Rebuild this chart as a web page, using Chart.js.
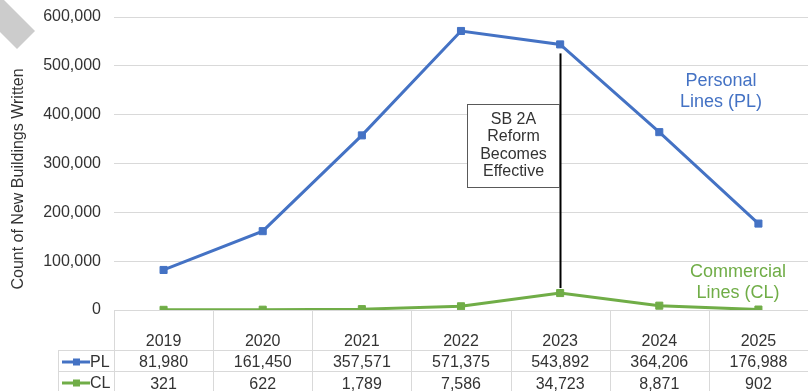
<!DOCTYPE html>
<html>
<head>
<meta charset="utf-8">
<title>New Buildings Written</title>
<script src="https://cdn.jsdelivr.net/npm/chart.js@4.4.1/dist/chart.umd.min.js"></script>
<style>
    html, body { margin: 0; padding: 0; background: #fff; }
    #wrap { position: relative; width: 808px; height: 391px; }
</style>
</head>
<body>
<div id="wrap"><canvas id="buildings-chart"></canvas></div>
<script>
// donnees
const years = ['2019', '2020', '2021', '2022', '2023', '2024', '2025'];
const plCounts = [81980, 161450, 357571, 571375, 543892, 364206, 176988];
const clCounts = [321, 622, 1789, 7586, 34723, 8871, 902];
const yMax = 600000;
const yStep = 100000;
const reformYear = '2023';
const reformText = ['SB 2A', 'Reform', 'Becomes', 'Effective'];

const blue = '#4472C4';
const green = '#70AD47';
const gridGray = '#d9d9d9';
const textGray = '#333333';
const FONT = '"Liberation Sans", Arial, sans-serif';

const fmt = v => v.toLocaleString('en-US');

// tableau sous l'axe x + notes
const tablePlugin = {
    id: 'tableNotes',
    beforeDraw(chart) {
        const ctx = chart.ctx;
        // forme grise dans le coin
        ctx.save();
        ctx.fillStyle = '#cccccc';
        ctx.beginPath();
        ctx.moveTo(0, 0);
        ctx.lineTo(4, 0);
        ctx.lineTo(35, 31);
        ctx.lineTo(17, 49);
        ctx.lineTo(0, 32);
        ctx.closePath();
        ctx.fill();
        ctx.restore();
    },
    afterDraw(chart) {
        const ctx = chart.ctx;
        const x = chart.scales.x;
        const y = chart.scales.y;
        const area = chart.chartArea;
        const step = (area.right - area.left) / years.length;
        const top = area.bottom;
        const row1 = top + 40, row2 = top + 61, bottom = chart.height;
        const keyLeft = 58;

        ctx.save();
        ctx.strokeStyle = gridGray;
        ctx.lineWidth = 1;
        ctx.beginPath();
        for (let i = 0; i <= years.length; i++) {
            const bx = Math.round(area.left + i * step) + 0.5;
            ctx.moveTo(bx, top);
            ctx.lineTo(bx, bottom);
        }
        ctx.moveTo(keyLeft + 0.5, row1);
        ctx.lineTo(keyLeft + 0.5, bottom);
        ctx.moveTo(keyLeft, row1 + 0.5);
        ctx.lineTo(area.right, row1 + 0.5);
        ctx.moveTo(keyLeft, row2 + 0.5);
        ctx.lineTo(area.right, row2 + 0.5);
        ctx.stroke();

        ctx.font = '16px ' + FONT;
        ctx.fillStyle = textGray;
        ctx.textAlign = 'center';
        ctx.textBaseline = 'alphabetic';
        years.forEach((yr, i) => {
            const cx = x.getPixelForValue(i);
            ctx.fillText(yr, cx, top + 36);
            ctx.fillText(fmt(plCounts[i]), cx, row1 + 17);
            ctx.fillText(fmt(clCounts[i]), cx, row2 + 17.5);
        });

        // cles de legende
        [[blue, 'PL', row1], [green, 'CL', row2]].forEach(([col, name, ry]) => {
            const my = ry + 12;
            ctx.strokeStyle = col;
            ctx.lineWidth = 3;
            ctx.beginPath();
            ctx.moveTo(62, my);
            ctx.lineTo(90, my);
            ctx.stroke();
            ctx.fillStyle = col;
            ctx.fillRect(73, my - 3.5, 7, 7);
            ctx.fillStyle = textGray;
            ctx.textAlign = 'left';
            ctx.fillText(name, 90, ry + 17);
        });

        // titre de l'axe y
        ctx.save();
        ctx.translate(19, 179);
        ctx.rotate(-Math.PI / 2);
        ctx.textAlign = 'center';
        ctx.textBaseline = 'middle';
        ctx.font = '16px ' + FONT;
        ctx.fillStyle = textGray;
        ctx.fillText('Count of New Buildings Written', 0, 0);
        ctx.restore();

        // reforme SB 2A
        const ri = years.indexOf(reformYear);
        const rx = Math.round(x.getPixelForValue(ri)) + 0.5;
        const lineTop = y.getPixelForValue(plCounts[ri]) + 9;
        const lineBot = y.getPixelForValue(clCounts[ri]) - 5;
        ctx.strokeStyle = '#000';
        ctx.lineWidth = 2;
        ctx.beginPath();
        ctx.moveTo(rx, lineTop);
        ctx.lineTo(rx, lineBot);
        ctx.stroke();

        const boxW = 92, boxH = 83, boxTop = 104.5;
        const boxLeft = rx - 1 - boxW;
        ctx.fillStyle = '#fff';
        ctx.fillRect(boxLeft, boxTop, boxW, boxH);
        ctx.strokeStyle = '#595959';
        ctx.lineWidth = 1;
        ctx.strokeRect(boxLeft, boxTop, boxW, boxH);
        ctx.fillStyle = textGray;
        ctx.textAlign = 'center';
        ctx.textBaseline = 'middle';
        ctx.font = '16px ' + FONT;
        reformText.forEach((t, k) => {
            ctx.fillText(t, boxLeft + boxW / 2, boxTop + 15 + k * 17.5);
        });

        // etiquettes des series
        ctx.font = '18px ' + FONT;
        ctx.fillStyle = blue;
        ctx.fillText('Personal', 721, 81);
        ctx.fillText('Lines (PL)', 721, 102);
        ctx.fillStyle = green;
        ctx.fillText('Commercial', 738, 272);
        ctx.fillText('Lines (CL)', 738, 293);
        ctx.restore();
    }
};

document.addEventListener('DOMContentLoaded', function() {
    const ctx = document.getElementById('buildings-chart').getContext('2d');
    new Chart(ctx, {
        type: 'line',
        data: {
            labels: years,
            datasets: [
                {
                    label: 'PL',
                    data: plCounts,
                    borderColor: blue,
                    backgroundColor: blue,
                    borderWidth: 3,
                    pointStyle: 'rect',
                    pointRadius: 5,
                    pointBorderWidth: 1,
                    tension: 0,
                    fill: false
                },
                {
                    label: 'CL',
                    data: clCounts,
                    borderColor: green,
                    backgroundColor: green,
                    borderWidth: 3,
                    pointStyle: 'rect',
                    pointRadius: 5,
                    pointBorderWidth: 1,
                    tension: 0,
                    fill: false
                }
            ]
        },
        options: {
            responsive: true,
            maintainAspectRatio: false,
            animation: false,
            layout: { autoPadding: false, padding: { top: 17, right: 0, left: 0, bottom: 0 } },
            scales: {
                x: {
                    offset: true,
                    grid: { display: false },
                    border: { display: false },
                    ticks: { display: false },
                    afterFit(scale) { scale.height = 81; }
                },
                y: {
                    min: 0,
                    max: yMax,
                    border: { display: false },
                    grid: { color: gridGray, drawTicks: false },
                    ticks: {
                        stepSize: yStep,
                        padding: 13,
                        color: textGray,
                        font: { family: FONT, size: 16 },
                        callback: v => fmt(v)
                    },
                    afterFit(scale) {
                        scale.width = 114;
                        scale.paddingTop = 0;
                        scale.paddingBottom = 0;
                    }
                }
            },
            plugins: {
                legend: { display: false },
                tooltip: { enabled: false }
            }
        },
        plugins: [tablePlugin]
    });
});
</script>
</body>
</html>
